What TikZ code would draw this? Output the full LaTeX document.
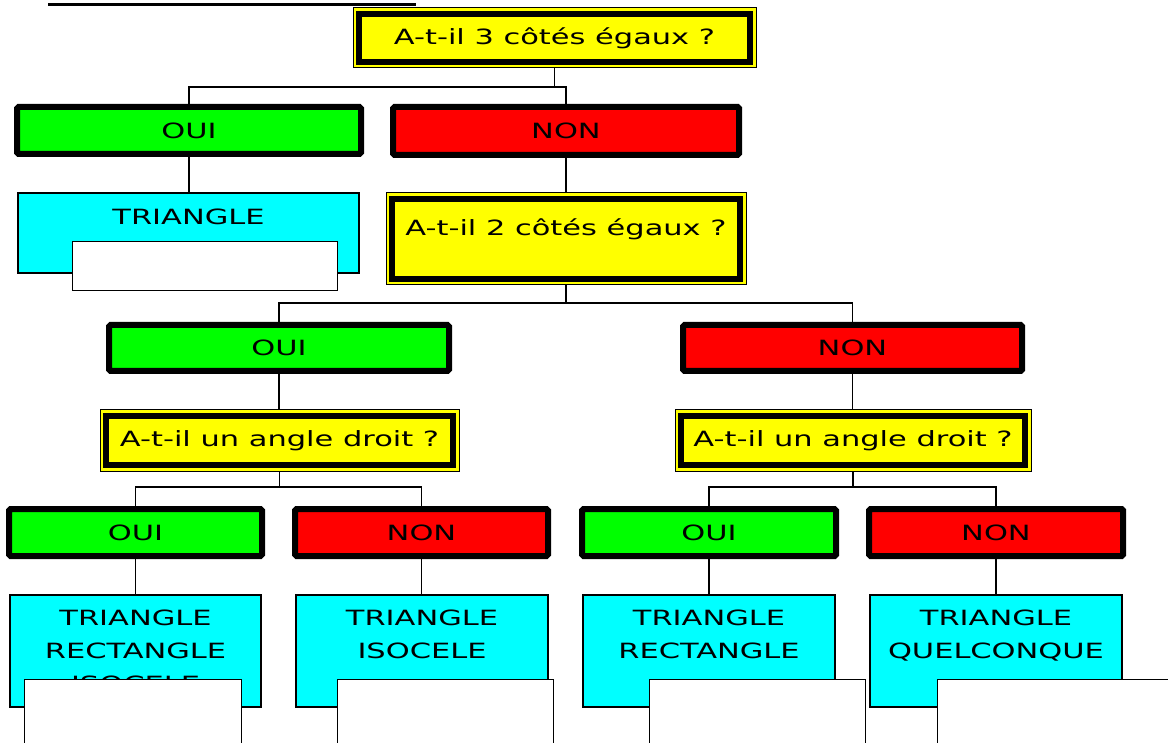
\documentclass[tikz,border=0pt]{standalone}
\usepackage{fontspec}
\setmainfont{DejaVu Sans}[FakeStretch=1.45]
\usetikzlibrary{calc,backgrounds}

\definecolor{yesgreen}{HTML}{00FF00}
\definecolor{nored}{HTML}{FF0000}
\definecolor{askyellow}{HTML}{FFFF00}
\definecolor{answercyan}{HTML}{00FFFF}

\tikzset{
  txt/.style={font=\fontsize{21}{33}\selectfont, align=center, inner sep=0pt},
  choice/.style={txt, draw=black, line width=6pt, rounded corners=1.5pt},
  yesbox/.style={choice, fill=yesgreen},
  nobox/.style={choice, fill=nored},
  askbox/.style={txt, draw=black, line width=1pt, fill=askyellow},
  askframe/.style={draw=black, line width=6pt},
  answerbox/.style={txt, draw=black, line width=1.3pt, fill=answercyan},
  blankbox/.style={draw=black, line width=1.3pt, fill=white, anchor=north west, inner sep=0pt},
  link/.style={draw=black, line width=1.3pt},
}

\newcommand{\askframeof}[1]{%
  \draw[askframe] ($(#1.north west)+(6.5,6.5)$) rectangle ($(#1.south east)+(-6.5,-6.5)$);}

\begin{document}
\begin{tikzpicture}[x=1pt,y=-1pt]
\useasboundingbox (0,0) rectangle (1168,743);
\clip (0,0) rectangle (1168,743);

% title underline
\draw[line width=3.5pt] (48,4.5) -- (416,4.5);

% level 1
\node[askbox, minimum width=403pt, minimum height=60pt] (q1) at (554.5,38) {A-t-il 3 côtés égaux ?};
\askframeof{q1}
\node[yesbox, minimum width=344pt, minimum height=47pt] (yes1) at (189,130.5) {OUI};
\node[nobox, minimum width=346pt, minimum height=48pt] (no1) at (566,131) {NON};

% level 2
\node[answerbox, minimum width=341pt, minimum height=80pt] (c1) at (188.5,233) {TRIANGLE\\ \mbox{}};
\node[blankbox, minimum width=265pt, minimum height=49pt] (w1) at (72,241) {};
\node[askbox, font=\fontsize{21}{24}\selectfont, minimum width=360pt, minimum height=92pt] (q2) at (566,239) {A-t-il 2 côtés égaux ?\\ \mbox{}};
\askframeof{q2}

% level 3
\node[yesbox, minimum width=340pt, minimum height=46pt] (yes2) at (279,348) {OUI};
\node[nobox, minimum width=339pt, minimum height=46pt] (no2) at (852.5,348) {NON};
\node[askbox, minimum width=359pt, minimum height=61pt] (q3) at (279.5,440.5) {A-t-il un angle droit ?};
\askframeof{q3}
\node[askbox, minimum width=356pt, minimum height=61pt] (q4) at (853,440.5) {A-t-il un angle droit ?};
\askframeof{q4}

% level 4
\node[yesbox, minimum width=253pt, minimum height=47pt] (yes3) at (135.5,532.5) {OUI};
\node[nobox, minimum width=253pt, minimum height=47pt] (no3) at (421.5,532.5) {NON};
\node[yesbox, minimum width=254pt, minimum height=47pt] (yes4) at (709,532.5) {OUI};
\node[nobox, minimum width=254pt, minimum height=47pt] (no4) at (996,532.5) {NON};

% answers
\node[answerbox, minimum width=251pt, minimum height=112pt] (c2) at (135.5,651) {TRIANGLE\\RECTANGLE\\ISOCELE};
\node[answerbox, minimum width=252pt, minimum height=112pt] (c3) at (422,651) {TRIANGLE\\ISOCELE\\ \mbox{}};
\node[answerbox, minimum width=252pt, minimum height=112pt] (c4) at (709,651) {TRIANGLE\\RECTANGLE\\ \mbox{}};
\node[answerbox, minimum width=252pt, minimum height=112pt] (c5) at (996,651) {TRIANGLE\\QUELCONQUE\\ \mbox{}};
\node[blankbox, minimum width=217pt, minimum height=90pt] (w2) at (24,679) {};
\node[blankbox, minimum width=216pt, minimum height=90pt] (w3) at (337,679) {};
\node[blankbox, minimum width=216pt, minimum height=90pt] (w4) at (649,679) {};
\node[blankbox, minimum width=250pt, minimum height=90pt] (w5) at (937,679) {};

% connectors
\begin{scope}[on background layer]
  \coordinate (b1) at (554.5,87);
  \draw[link] (q1.south) -- (b1);
  \draw[link] (yes1.north) |- (b1) -| (no1.north);
  \draw[link] (yes1.south) -- (yes1.south |- c1.north);
  \draw[link] (no1.south) -- (q2.north);
  \coordinate (b2) at (566,303);
  \draw[link] (q2.south) -- (b2);
  \draw[link] (yes2.north) |- (b2) -| (no2.north);
  \draw[link] (yes2.south) -- (yes2.south |- q3.north);
  \draw[link] (no2.south) -- (no2.south |- q4.north);
  \coordinate (b3) at (279.5,487);
  \draw[link] (q3.south) -- (b3);
  \draw[link] (yes3.north) |- (b3) -| (no3.north);
  \coordinate (b4) at (853,487);
  \draw[link] (q4.south) -- (b4);
  \draw[link] (yes4.north) |- (b4) -| (no4.north);
  \draw[link] (yes3.south) -- (yes3.south |- c2.north);
  \draw[link] (no3.south) -- (no3.south |- c3.north);
  \draw[link] (yes4.south) -- (yes4.south |- c4.north);
  \draw[link] (no4.south) -- (no4.south |- c5.north);
\end{scope}
\end{tikzpicture}
\end{document}
